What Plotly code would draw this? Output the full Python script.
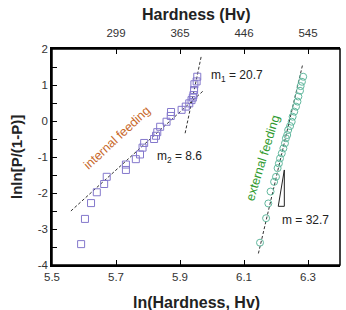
import plotly.graph_objects as go

# ln(Hardness) and lnln[P/(1-P)] values
internal_x = [5.591, 5.603, 5.622, 5.640, 5.663, 5.671, 5.731, 5.731, 5.762, 5.775,
              5.783, 5.788, 5.819, 5.825, 5.829, 5.838, 5.858, 5.871, 5.872, 5.905,
              5.918, 5.929, 5.936, 5.940, 5.942, 5.944, 5.945, 5.952, 5.954]
internal_y = [-3.42, -2.72, -2.28, -1.98, -1.75, -1.55, -1.36, -1.21, -1.06, -0.93,
              -0.74, -0.61, -0.50, -0.41, -0.31, -0.16, -0.02, 0.14, 0.25, 0.31,
              0.40, 0.49, 0.58, 0.65, 0.72, 0.86, 1.02, 1.10, 1.23]

external_x = [6.150, 6.169, 6.176, 6.183, 6.194, 6.200, 6.205, 6.209, 6.2125, 6.218,
              6.223, 6.228, 6.231, 6.235, 6.238, 6.244, 6.249, 6.252, 6.257, 6.2625,
              6.267, 6.270, 6.275, 6.277, 6.281, 6.285]
external_y = [-3.38, -2.70, -2.29, -1.96, -1.69, -1.55, -1.31, -1.18, -1.04, -0.90,
              -0.76, -0.62, -0.48, -0.39, -0.25, -0.14, -0.02, 0.12, 0.26, 0.40,
              0.54, 0.68, 0.84, 0.97, 1.09, 1.23]

# fit lines (endpoints)
fit_m2_x = [5.559, 5.973]
fit_m2_y = [-2.50, 0.84]
fit_m1_x = [5.916, 5.966]
fit_m1_y = [-0.34, 1.78]
fit_ext_x = [6.145, 6.283]
fit_ext_y = [-3.68, 1.56]

# slope triangle
tri_x = [6.207, 6.226, 6.226, 6.207]
tri_y = [-2.37, -2.37, -1.36, -2.37]

x_ticks = [5.5, 5.7, 5.9, 6.1, 6.3]
top_ticks = [5.7, 5.9, 6.1, 6.3]
top_labels = ["299", "365", "446", "545"]
y_ticks = [-4, -3, -2, -1, 0, 1, 2]
y_minor = [-3.5, -2.5, -1.5, -0.5, 0.5, 1.5]

FONT = "Liberation Sans, Arial, sans-serif"
fig = go.Figure()

dash_line = dict(color="#333333", width=1, dash="3px,2px")
for fx, fy in [(fit_m2_x, fit_m2_y), (fit_m1_x, fit_m1_y), (fit_ext_x, fit_ext_y)]:
    fig.add_trace(go.Scatter(x=fx, y=fy, mode="lines", line=dash_line, showlegend=False))

fig.add_trace(go.Scatter(x=internal_x, y=internal_y, mode="markers", showlegend=False,
                         marker=dict(symbol="square-open", size=7, color="#8478cc",
                                     line=dict(width=1))))
fig.add_trace(go.Scatter(x=external_x, y=external_y, mode="markers", showlegend=False,
                         marker=dict(symbol="circle-open", size=7, color="#62b89e",
                                     line=dict(width=1))))
fig.add_trace(go.Scatter(x=tri_x, y=tri_y, mode="lines", fill="toself", fillcolor="white",
                         line=dict(color="#222222", width=1), showlegend=False))

# invisible trace for top axis
fig.add_trace(go.Scatter(x=[5.5, 6.4], y=[0, 0], xaxis="x2", mode="markers",
                         marker=dict(opacity=0), showlegend=False, hoverinfo="skip"))

axis_common = dict(showline=True, linecolor="black", linewidth=1.5, ticks="inside",
                   tickcolor="black", ticklen=5, showgrid=False, zeroline=False,
                   tickfont=dict(family=FONT, size=11.5, color="#333333"))

fig.update_layout(
    width=346, height=310,
    margin=dict(l=52, r=6, t=49, b=45),
    plot_bgcolor="white", paper_bgcolor="white",
    xaxis=dict(range=[5.5, 6.4], tickvals=x_ticks, ticktext=[f"{v:.1f}" for v in x_ticks],
               **axis_common),
    xaxis2=dict(range=[5.5, 6.4], overlaying="x", side="top", tickvals=top_ticks,
                ticktext=top_labels, anchor="y", ticklabelstandoff=6, **axis_common),
    yaxis=dict(range=[-4, 2], tickvals=y_ticks, ticktext=[str(v) for v in y_ticks],
               minor=dict(tickvals=y_minor, ticks="inside", ticklen=5, tickcolor="black"),
               **axis_common),
    shapes=[dict(type="rect", xref="paper", yref="paper", x0=0, x1=1, y0=0, y1=1,
                 line=dict(color="black", width=1.5))],
    annotations=[
        dict(text="<b>Hardness (Hv)</b>", xref="paper", yref="paper", x=0.5, y=1.0,
             yshift=35, xanchor="center", yanchor="middle", showarrow=False,
             font=dict(family=FONT, size=16, color="#222222")),
        dict(text="<b>ln(Hardness, Hv)</b>", xref="paper", yref="paper", x=0.5, y=0,
             yshift=-37, xanchor="center", yanchor="middle", showarrow=False,
             font=dict(family=FONT, size=16, color="#222222")),
        dict(text="<b>lnln[P/(1-P)]</b>", xref="paper", yref="paper", x=0, y=0.5,
             xshift=-36, textangle=-90, xanchor="center", yanchor="middle",
             showarrow=False, font=dict(family=FONT, size=15, color="#222222")),
        dict(text="m<sub>1</sub> = 20.7", x=5.992, y=1.25, xanchor="left",
             showarrow=False, font=dict(family=FONT, size=12, color="#222222")),
        dict(text="m<sub>2</sub> = 8.6", x=5.822, y=-0.99, xanchor="left",
             showarrow=False, font=dict(family=FONT, size=12, color="#222222")),
        dict(text="m = 32.7", x=6.212, y=-2.75, xanchor="left",
             showarrow=False, font=dict(family=FONT, size=12, color="#222222")),
        dict(text="internal feeding", x=5.702, y=-0.46, textangle=-43,
             showarrow=False, font=dict(family=FONT, size=12.5, color="#c8682a")),
        dict(text="external feeding", x=6.16, y=-1.04, textangle=-73,
             showarrow=False, font=dict(family=FONT, size=12.5, color="#2e9a2e")),
    ],
)

fig.write_html("out.html")
